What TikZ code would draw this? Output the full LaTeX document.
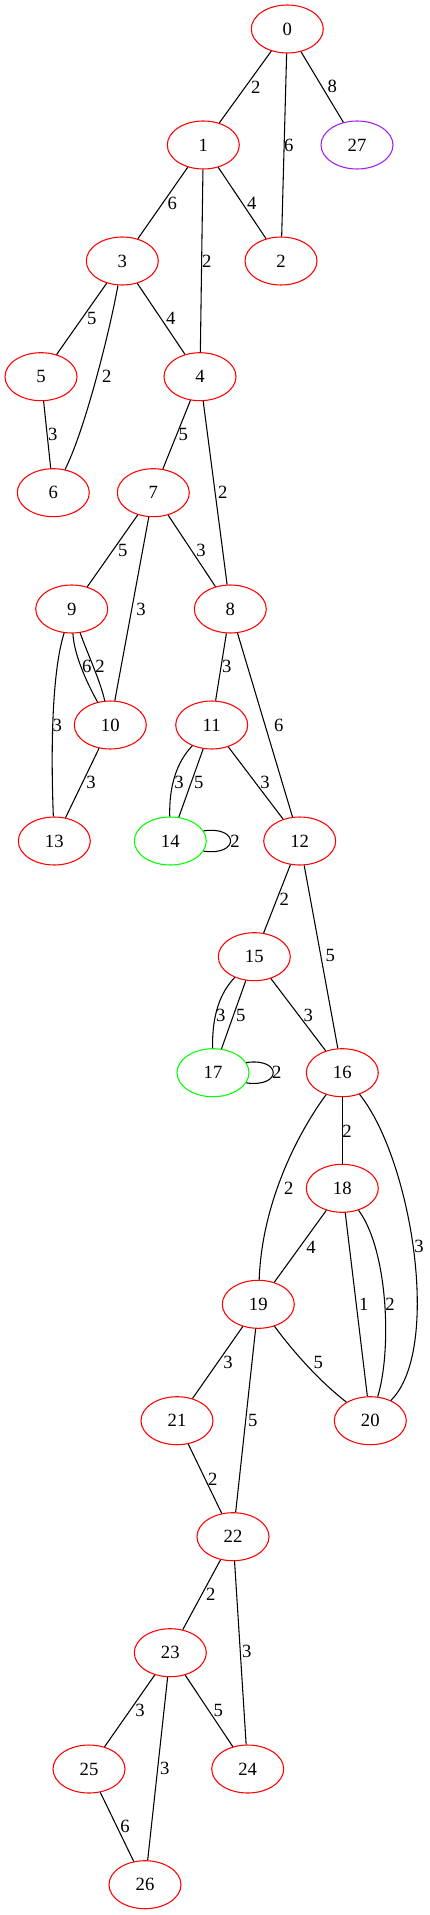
\documentclass[tikz,border=0pt]{standalone}
\usepackage{fontspec}
\setmainfont{Liberation Serif}
\usetikzlibrary{shapes.geometric}
\definecolor{gvpurple}{HTML}{A020F0}
\definecolor{gvgreen}{HTML}{00FF00}
\definecolor{gvred}{HTML}{FF0000}
\begin{document}
\begin{tikzpicture}[x=0.75pt,y=-0.75pt,
 vx/.style={ellipse, draw=gvred, line width=0.8pt, minimum width=54pt, minimum height=36pt, inner sep=0pt, font=\fontsize{14}{16}\selectfont},
 gvx/.style={vx, draw=gvgreen},
 pvx/.style={vx, draw=gvpurple},
 ed/.style={line width=0.8pt, black},
 lbl/.style={inner sep=0pt, font=\fontsize{14}{16}\selectfont}]
\useasboundingbox (0,0) rectangle (429,1915);
% nodes
\node[vx] (n0) at (287.3,29) {0};
\node[vx] (n1) at (203.3,145) {1};
\node[pvx] (n27) at (357,145) {27};
\node[vx] (n2) at (281,261) {2};
\node[vx] (n3) at (122.3,261) {3};
\node[vx] (n5) at (41,376.7) {5};
\node[vx] (n4) at (200,376.7) {4};
\node[vx] (n6) at (53.3,492.7) {6};
\node[vx] (n7) at (153.3,492.7) {7};
\node[vx] (n9) at (71.7,609) {9};
\node[vx] (n8) at (230.3,609) {8};
\node[vx] (n10) at (110.3,725) {10};
\node[vx] (n11) at (211.7,725) {11};
\node[vx] (n13) at (54.3,841) {13};
\node[gvx] (n14) at (170.3,841) {14};
\node[vx] (n12) at (299.7,841) {12};
\node[vx] (n15) at (254.3,956.7) {15};
\node[gvx] (n17) at (213,1072.7) {17};
\node[vx] (n16) at (342.3,1072.7) {16};
\node[vx] (n18) at (342.3,1188.3) {18};
\node[vx] (n19) at (258.3,1304.3) {19};
\node[vx] (n20) at (370.3,1420.7) {20};
\node[vx] (n21) at (177,1420.7) {21};
\node[vx] (n22) at (233,1536.7) {22};
\node[vx] (n23) at (170.3,1652.7) {23};
\node[vx] (n25) at (89,1769) {25};
\node[vx] (n24) at (247.7,1769) {24};
\node[vx] (n26) at (145,1884.7) {26};
% edges
\draw[ed] (n0) -- (n1);
\draw[ed] (n0) -- (n2);
\draw[ed] (n0) -- (n27);
\draw[ed] (n1) -- (n3);
\draw[ed] (n1) -- (n4);
\draw[ed] (n1) -- (n2);
\draw[ed] (n3) -- (n5);
\draw[ed] (n3) .. controls (110,330) and (85,430) .. (n6);
\draw[ed] (n3) -- (n4);
\draw[ed] (n5) -- (n6);
\draw[ed] (n4) -- (n7);
\draw[ed] (n4) -- (n8);
\draw[ed] (n7) -- (n9);
\draw[ed] (n7) -- (n10);
\draw[ed] (n7) -- (n8);
\draw[ed] (n9) .. controls (74,655) and (87,683) .. (n10);
\draw[ed] (n9) .. controls (88,655) and (100,680) .. (n10);
\draw[ed] (n9) .. controls (54,665) and (50,730) .. (n13);
\draw[ed] (n10) -- (n13);
\draw[ed] (n8) -- (n11);
\draw[ed] (n8) -- (n12);
\draw[ed] (n11) .. controls (177,762) and (169,785) .. (n14);
\draw[ed] (n11) -- (n14);
\draw[ed] (n11) -- (n12);
\draw[ed] (n14.17) .. controls +(36,-5) and +(36,5) .. (n14.-17);
\draw[ed] (n12) -- (n15);
\draw[ed] (n12) -- (n16);
\draw[ed] (n15) .. controls (220,993) and (212,1015) .. (n17);
\draw[ed] (n15) -- (n17);
\draw[ed] (n15) -- (n16);
\draw[ed] (n17.17) .. controls +(36,-5) and +(36,5) .. (n17.-17);
\draw[ed] (n16) -- (n18);
\draw[ed] (n16) .. controls (300,1130) and (262,1200) .. (n19);
\draw[ed] (n16) .. controls (412,1160) and (442,1350) .. (n20);
\draw[ed] (n18) -- (n19);
\draw[ed] (n18) -- (n20);
\draw[ed] (n18) .. controls (388,1250) and (392,1350) .. (n20);
\draw[ed] (n19) -- (n21);
\draw[ed] (n19) -- (n22);
\draw[ed] (n19) .. controls (292,1350) and (318,1380) .. (n20);
\draw[ed] (n21) -- (n22);
\draw[ed] (n22) -- (n23);
\draw[ed] (n22) -- (n24);
\draw[ed] (n23) -- (n25);
\draw[ed] (n23) -- (n26);
\draw[ed] (n23) -- (n24);
\draw[ed] (n25) -- (n26);
% labels
\node[lbl] (l01) at (255.7,87.3) {2};
\node[lbl] (l02) at (288.7,145) {6};
\node[lbl] (l027) at (332.3,86.7) {8};
\node[lbl] (l13) at (172.3,203.3) {6};
\node[lbl] (l12) at (251.7,203.3) {4};
\node[lbl] (l14) at (206.7,261) {2};
\node[lbl] (l35) at (91.7,318.3) {5};
\node[lbl] (l34) at (170.7,318.3) {4};
\node[lbl] (l36) at (106.7,376.7) {2};
\node[lbl] (l56) at (52.7,434) {3};
\node[lbl] (l47) at (183.3,434) {5};
\node[lbl] (l48) at (222.7,492.7) {2};
\node[lbl] (l79) at (122.7,550.7) {5};
\node[lbl] (l78) at (201,550.7) {3};
\node[lbl] (l710) at (141,609) {3};
\node[lbl] (l910a) at (86.7,666.7) {6};
\node[lbl] (l910b) at (100,666.7) {2};
\node[lbl] (l811) at (226.7,666.7) {3};
\node[lbl] (l913) at (57.3,725) {3};
\node[lbl] (l812) at (278.7,725) {6};
\node[lbl] (l1013) at (91,782.7) {3};
\node[lbl] (l1114a) at (179,782.7) {3};
\node[lbl] (l1114b) at (198.7,782.7) {5};
\node[lbl] (l1112) at (265,782.7) {3};
\node[lbl] (l1414) at (235,841) {2};
\node[lbl] (l1215) at (284.3,899) {2};
\node[lbl] (l1216) at (330.3,955.7) {5};
\node[lbl] (l1517a) at (220.7,1015) {3};
\node[lbl] (l1517b) at (240.7,1015) {5};
\node[lbl] (l1516) at (308.3,1015) {3};
\node[lbl] (l1717) at (276.7,1072.7) {2};
\node[lbl] (l1618) at (347,1131) {2};
\node[lbl] (l1619) at (288.7,1188.3) {2};
\node[lbl] (l1620) at (419,1246.7) {3};
\node[lbl] (l1819) at (311,1247.3) {4};
\node[lbl] (l1820a) at (363.7,1304.3) {1};
\node[lbl] (l1820b) at (390,1304.3) {2};
\node[lbl] (l1921) at (228,1362.3) {3};
\node[lbl] (l1920) at (318.3,1362.3) {5};
\node[lbl] (l1922) at (252.7,1420.7) {5};
\node[lbl] (l2122) at (212.7,1479) {2};
\node[lbl] (l2223) at (210.7,1594.3) {2};
\node[lbl] (l2224) at (246.7,1651.7) {3};
\node[lbl] (l2325) at (140,1710) {3};
\node[lbl] (l2324) at (218.3,1710) {5};
\node[lbl] (l2326) at (164.7,1768.3) {3};
\node[lbl] (l2526) at (125,1826.7) {6};
\end{tikzpicture}
\end{document}
